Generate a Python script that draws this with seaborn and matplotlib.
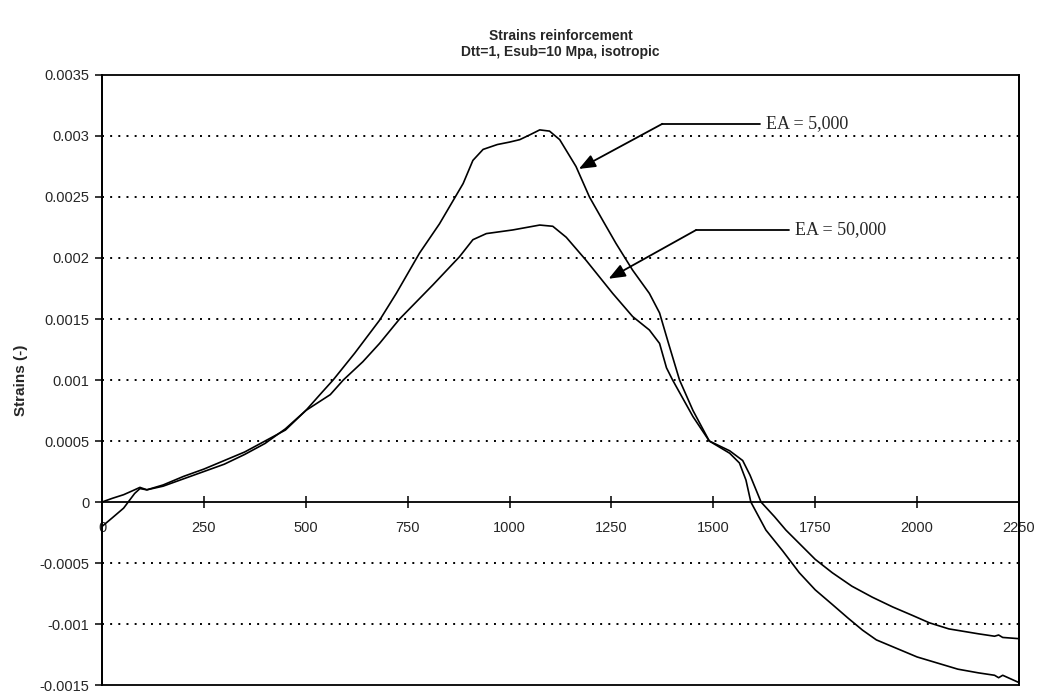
import matplotlib
matplotlib.use("Agg")
import matplotlib.pyplot as plt
from matplotlib.patches import Rectangle
import seaborn as sns
import pandas as pd

# ============================================================
# DATA
# ============================================================

x_ea5000 = [0, 25, 53, 80, 93, 110, 150, 200, 250, 300, 350, 400, 450, 500,
            540, 567, 620, 681, 722, 779, 828, 886, 910, 935, 970, 1000, 1025,
            1050, 1074, 1098, 1123, 1163, 1196, 1230, 1261, 1302, 1343, 1368,
            1390, 1417, 1450, 1490, 1540, 1564, 1580, 1592, 1629, 1670, 1711,
            1750, 1792, 1830, 1866, 1900, 1950, 2000, 2050, 2100, 2150, 2190,
            2200, 2210, 2250]
y_ea5000 = [-0.0002, -0.00013, -0.00005, 0.00007, 0.00011, 0.0001, 0.00014,
            0.00021, 0.00027, 0.00034, 0.00041, 0.0005, 0.00059, 0.00075,
            0.0009, 0.001, 0.00122, 0.00149, 0.00171, 0.00204, 0.00228,
            0.00261, 0.0028, 0.00289, 0.00293, 0.00295, 0.00297, 0.00301,
            0.00305, 0.00304, 0.00297, 0.00275, 0.0025, 0.0023, 0.00212,
            0.0019, 0.00171, 0.00155, 0.0013, 0.001, 0.00075, 0.0005, 0.0004,
            0.00032, 0.00018, 0.0, -0.00023, -0.0004, -0.00058, -0.00072,
            -0.00084, -0.00095, -0.00105, -0.00113, -0.0012, -0.00127,
            -0.00132, -0.00137, -0.0014, -0.00142, -0.00144, -0.00142,
            -0.00148]

x_ea50000 = [0, 25, 53, 80, 93, 110, 150, 200, 250, 300, 350, 400, 450, 500,
             560, 592, 640, 681, 730, 812, 877, 910, 943, 1008, 1074, 1106,
             1139, 1188, 1253, 1302, 1343, 1368, 1385, 1400, 1450, 1490, 1540,
             1572, 1590, 1617, 1650, 1678, 1711, 1750, 1792, 1840, 1890, 1940,
             1989, 2030, 2078, 2150, 2190, 2200, 2210, 2250]
y_ea50000 = [0.0, 0.00003, 0.00006, 0.0001, 0.00012, 0.0001, 0.00013, 0.00019,
             0.00025, 0.00031, 0.00039, 0.00048, 0.0006, 0.00075, 0.00088,
             0.001, 0.00115, 0.0013, 0.0015, 0.00178, 0.00201, 0.00215, 0.0022,
             0.00223, 0.00227, 0.00226, 0.00217, 0.00198, 0.00171, 0.00152,
             0.00141, 0.0013, 0.0011, 0.001, 0.0007, 0.0005, 0.00042, 0.00034,
             0.00022, 0.0, -0.00012, -0.00023, -0.00034, -0.00047, -0.00058,
             -0.00069, -0.00078, -0.00086, -0.00093, -0.00099, -0.00104,
             -0.00108, -0.0011, -0.00109, -0.00111, -0.00112]

x_ticks = [0, 250, 500, 750, 1000, 1250, 1500, 1750, 2000, 2250]
y_ticks = [-0.0015, -0.001, -0.0005, 0, 0.0005, 0.001, 0.0015, 0.002,
           0.0025, 0.003, 0.0035]
y_tick_labels = ["-0.0015", "-0.001", "-0.0005", "0", "0.0005", "0.001",
                 "0.0015", "0.002", "0.0025", "0.003", "0.0035"]

# annotation: (text, text pos, elbow, arrow tip)
labels = ["EA = 5,000", "EA = 50,000"]
label_pos = [(1629, 0.0031), (1701, 0.00223)]
elbow_pos = [(1375, 0.0031), (1458, 0.00223)]
tip_pos = [(1170, 0.00273), (1243, 0.00183)]

df = pd.concat([
    pd.DataFrame({"x": x_ea5000, "y": y_ea5000, "EA": "5000"}),
    pd.DataFrame({"x": x_ea50000, "y": y_ea50000, "EA": "50000"}),
])

# ============================================================
# PLOT
# ============================================================

sns.set_style("white")
plt.rcParams["font.family"] = ["Liberation Sans", "DejaVu Sans"]

fig = plt.figure(figsize=(10.38, 6.93), dpi=100)
ax = fig.add_axes([0.0983, 0.0115, 0.8834, 0.8803])

sns.lineplot(
    data=df, x="x", y="y", hue="EA",
    palette=["black", "black"], sort=False,
    linewidth=1.2, legend=False, ax=ax
)

ax.set_xlim(0, 2250)
ax.set_ylim(-0.0015, 0.0035)

for yv in y_ticks:
    if -0.0015 < yv < 0.0035 and yv != 0:
        ax.axhline(yv, color="black", linestyle=(0, (1, 3.2)),
                   linewidth=1.4, zorder=0)

ax.spines["bottom"].set_position(("data", 0))
ax.spines["top"].set_visible(False)
for s in ["bottom", "left", "right"]:
    ax.spines[s].set_color("black")
    ax.spines[s].set_linewidth(1.3)

ax.add_patch(Rectangle((0, 0), 1, 1, transform=ax.transAxes, fill=False,
                       edgecolor="black", linewidth=1.3, clip_on=False,
                       zorder=5))

ax.set_xticks(x_ticks)
ax.set_xticklabels([str(v) for v in x_ticks], fontsize=10.5)
ax.set_yticks(y_ticks)
ax.set_yticklabels(y_tick_labels, fontsize=10.5)
ax.tick_params(axis="x", direction="inout", length=9, width=1.3, pad=9,
               bottom=True)
ax.tick_params(axis="y", direction="out", length=5, width=1.3, pad=4,
               left=True)

ax.set_xlabel("")
ax.set_ylabel("Strains (-)", fontsize=11, fontweight="bold", labelpad=8)

ax.set_title("Strains reinforcement\nDtt=1, Esub=10 Mpa, isotropic",
             fontsize=10, fontweight="bold", pad=14, linespacing=1.1)

for txt, tp, ep, ap in zip(labels, label_pos, elbow_pos, tip_pos):
    ax.plot([ep[0], tp[0] - 15], [ep[1], tp[1]], color="black",
            linewidth=1.3)
    ax.annotate("", xy=ap, xytext=ep,
                arrowprops=dict(arrowstyle="-|>,head_length=1.0,head_width=0.4",
                                color="black", lw=1.3, shrinkA=0, shrinkB=0))
    ax.text(tp[0], tp[1], txt, fontsize=13, va="center", ha="left",
            family=["Liberation Serif", "DejaVu Serif"])

fig.savefig("out.png", dpi=100)
